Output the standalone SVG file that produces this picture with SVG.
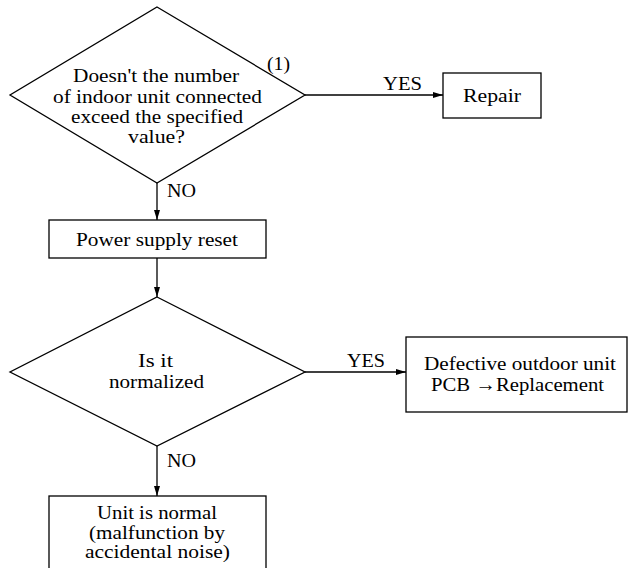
<svg xmlns="http://www.w3.org/2000/svg" width="629" height="568" viewBox="0 0 629 568">
  <style>
    .shape { fill: #ffffff; stroke: #000000; stroke-width: 1.3; }
    .line { fill: none; stroke: #000000; stroke-width: 1.3; }
    .t { font-family: 'Liberation Serif', 'DejaVu Serif', serif; font-size: 19.5px; fill: #000000; }
    .c { text-anchor: middle; }
  </style>
  <defs>
    <marker id="arrow" viewBox="0 0 10 6" refX="10" refY="3" markerWidth="10" markerHeight="6" markerUnits="userSpaceOnUse" orient="auto">
      <path d="M0,0 L10,3 L0,6 Z" fill="#000000"/>
    </marker>
  </defs>

  <!-- connectors -->
  <g id="connectors" class="t">
    <line class="line" x1="305" y1="95" x2="443" y2="95" marker-end="url(#arrow)"/>
    <text x="402.5" y="90" class="c" textLength="39" lengthAdjust="spacingAndGlyphs">YES</text>
    <line class="line" x1="157" y1="183" x2="157" y2="220" marker-end="url(#arrow)"/>
    <text x="167" y="197" textLength="29" lengthAdjust="spacingAndGlyphs">NO</text>
    <line class="line" x1="157" y1="258" x2="157" y2="297" marker-end="url(#arrow)"/>
    <line class="line" x1="305" y1="372" x2="406" y2="372" marker-end="url(#arrow)"/>
    <text x="366" y="367" class="c" textLength="38" lengthAdjust="spacingAndGlyphs">YES</text>
    <line class="line" x1="157" y1="446" x2="157" y2="496" marker-end="url(#arrow)"/>
    <text x="167" y="467" textLength="29" lengthAdjust="spacingAndGlyphs">NO</text>
  </g>

  <!-- decision: number of indoor units -->
  <g id="check-units" class="t">
    <polygon class="shape" points="157,7 305,95 157,183 10,95"/>
    <text x="156" y="82" class="c" textLength="166" lengthAdjust="spacingAndGlyphs">Doesn't the number</text>
    <text x="157.5" y="103" class="c" textLength="209" lengthAdjust="spacingAndGlyphs">of indoor unit connected</text>
    <text x="157" y="123" class="c" textLength="172" lengthAdjust="spacingAndGlyphs">exceed the specified</text>
    <text x="156.5" y="143" class="c" textLength="57" lengthAdjust="spacingAndGlyphs">value?</text>
    <text x="278.5" y="70" class="c" textLength="23" lengthAdjust="spacingAndGlyphs">(1)</text>
  </g>

  <!-- repair -->
  <g id="repair" class="t">
    <rect class="shape" x="443" y="73" width="98" height="45"/>
    <text x="492" y="102" class="c" textLength="58" lengthAdjust="spacingAndGlyphs">Repair</text>
  </g>

  <!-- power supply reset -->
  <g id="power-reset" class="t">
    <rect class="shape" x="49" y="220" width="217" height="38"/>
    <text x="157" y="246" class="c" textLength="162" lengthAdjust="spacingAndGlyphs">Power supply reset</text>
  </g>

  <!-- decision: normalized -->
  <g id="check-normalized" class="t">
    <polygon class="shape" points="157,297 305,372 157,446 10,372"/>
    <text x="155.5" y="367" class="c" textLength="35" lengthAdjust="spacingAndGlyphs">Is it</text>
    <text x="156.5" y="388" class="c" textLength="95" lengthAdjust="spacingAndGlyphs">normalized</text>
  </g>

  <!-- outdoor PCB replacement -->
  <g id="replace-pcb" class="t">
    <rect class="shape" x="406" y="337" width="221" height="75"/>
    <text x="520" y="370" class="c" textLength="192" lengthAdjust="spacingAndGlyphs">Defective outdoor unit</text>
    <text x="517.5" y="391" class="c" textLength="173" lengthAdjust="spacingAndGlyphs">PCB →Replacement</text>
  </g>

  <!-- unit is normal -->
  <g id="unit-normal" class="t">
    <rect class="shape" x="49" y="496" width="217" height="80"/>
    <text x="157" y="519" class="c" textLength="120" lengthAdjust="spacingAndGlyphs">Unit is normal</text>
    <text x="157" y="539" class="c" textLength="136" lengthAdjust="spacingAndGlyphs">(malfunction by</text>
    <text x="157.5" y="558" class="c" textLength="145" lengthAdjust="spacingAndGlyphs">accidental noise)</text>
  </g>
</svg>
